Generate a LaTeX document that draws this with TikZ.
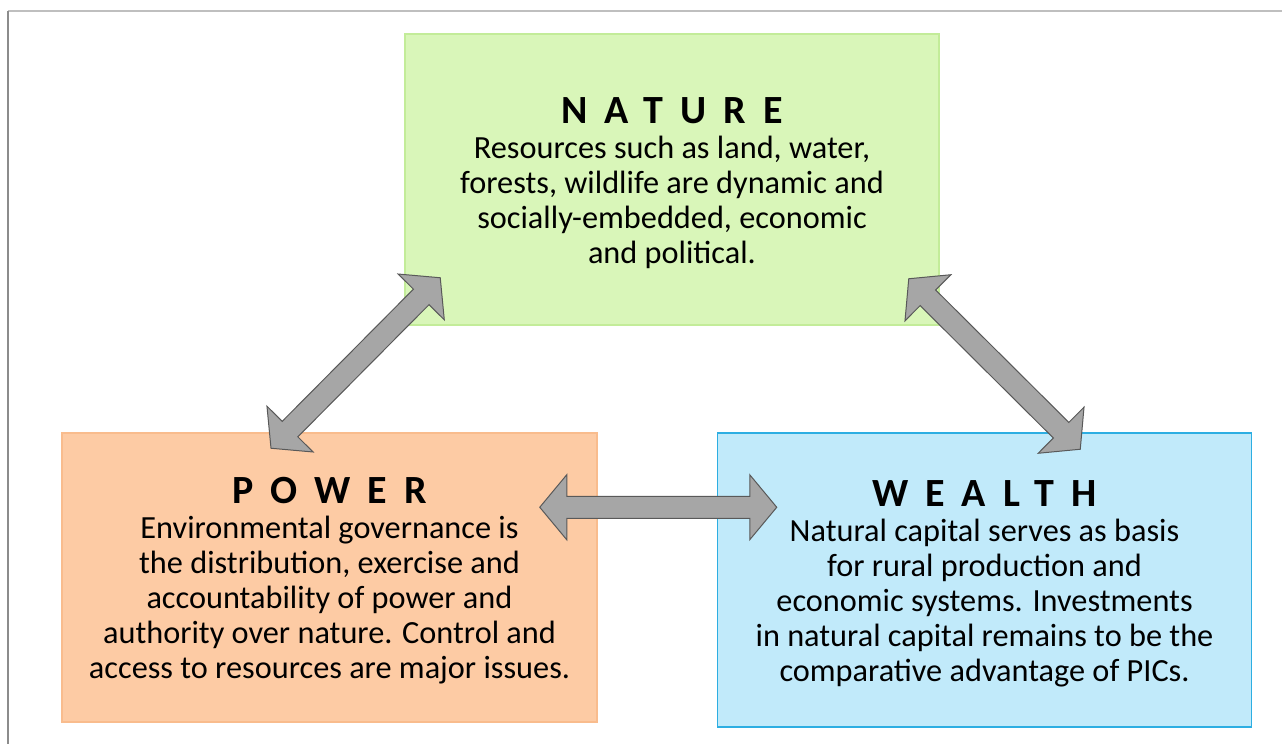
\documentclass[tikz,border=0pt]{standalone}
\usepackage{fontspec}
\setmainfont{Carlito}
\usepackage{tikz}
\usetikzlibrary{positioning,calc}
\definecolor{naturefill}{HTML}{D9F6B9}
\definecolor{natureline}{HTML}{C3EC99}
\definecolor{powerfill}{HTML}{FDCBA4}
\definecolor{powerline}{HTML}{F9BC8D}
\definecolor{wealthfill}{HTML}{C1EAFA}
\definecolor{wealthline}{HTML}{2DAEE2}
\definecolor{arrowfill}{HTML}{A6A6A6}
\definecolor{arrowline}{HTML}{595959}
\newcommand{\titletext}[1]{%
	{\rule{0pt}{33pt}\fontsize{40}{35}\selectfont\bfseries\addfontfeature{LetterSpace=43}#1}}
\newcommand{\blockarr}[2]{%
	\draw[fill=arrowfill,draw=arrowline,line width=1pt,line join=miter] (#1)
	--($(#1)!27pt!(#2)!32.5pt!90:(#2)$)--($(#1)!27pt!(#2)!11pt!90:(#2)$)
	--($(#2)!27pt!(#1)!11pt!-90:(#1)$)--($(#2)!27pt!(#1)!32.5pt!-90:(#1)$)
	--(#2)
	--($(#2)!27pt!(#1)!32.5pt!90:(#1)$)--($(#2)!27pt!(#1)!11pt!90:(#1)$)
	--($(#1)!27pt!(#2)!11pt!-90:(#2)$)--($(#1)!27pt!(#2)!32.5pt!-90:(#2)$)
	--cycle;}

\begin{document}
\begin{tikzpicture}[x=1pt,y=-1pt,
		box/.style={rectangle,line width=1.5pt,align=center,inner sep=0pt,font=\fontsize{32.3}{35}\selectfont}]
		\useasboundingbox (0,0) rectangle (1282,744);
		\draw[line width=2pt,draw=black!25] (8,11)--(1282,11);
		\draw[line width=2pt,draw=black!45] (8,11)--(8,744);
		
		\node[box,fill=naturefill,draw=natureline,minimum width=534pt,minimum height=291pt] (nature) at (672,179.5) {\titletext{NATURE}\\Resources such as land, water,\\forests, wildlife are dynamic and\\socially-embedded, economic\\and political.};
		
		\node[box,fill=powerfill,draw=powerline,minimum width=535pt,minimum height=289pt] (power) at (329.5,577.5) {\titletext{POWER}\\Environmental governance is\\the distribution, exercise and\\accountability of power and\\authority over nature. Control and\\access to resources are major issues.};
		
		\node[box,fill=wealthfill,draw=wealthline,minimum width=534pt,minimum height=294pt,below right=0pt and 119pt of power.north east] (wealth) {\titletext{WEALTH}\\Natural capital serves as basis\\for rural production and\\economic systems. Investments\\in natural capital remains to be the\\comparative advantage of PICs.};
		
		\coordinate[shift={(-58.5,16)}] (pn) at (power.north);
		\coordinate[shift={(36,-48)}] (nl) at (nature.south west);
		\coordinate[shift={(-31,-47)}] (nr) at (nature.south east);
		\coordinate[shift={(-172,17)}] (wn) at (wealth.north east);
		\coordinate[shift={(-58,75)}] (pe) at (power.north east);
		\coordinate[shift={(60,75)}] (ww) at (wealth.north west);
		
		\blockarr{pn}{nl}
		\blockarr{nr}{wn}
		\blockarr{pe}{ww}
	\end{tikzpicture}
\end{document}
